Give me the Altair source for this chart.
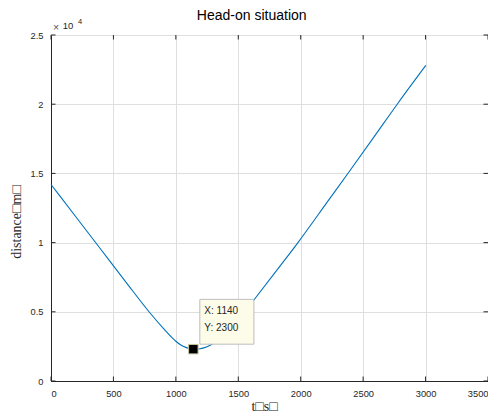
import altair as alt
import pandas as pd

# ---- data ----
t_vals = [0, 200, 400, 600, 790, 900, 973, 1000, 1040, 1080, 1110, 1140, 1170, 1199,
          1250, 1305, 1400, 1500, 1625, 1800, 1978, 2222, 2382, 2600, 2773, 3002]
d_vals = [14200, 11850, 9500, 7150, 4950, 3800, 3100, 2870, 2600, 2430, 2345, 2300, 2300, 2340,
          2480, 2724, 3400, 4400, 5850, 7900, 10000, 13050, 15050, 17800, 20000, 22800]

x_ticks = [0, 500, 1000, 1500, 2000, 2500, 3000, 3500]
y_ticks = [0, 5000, 10000, 15000, 20000, 25000]

tip_t = [1140]
tip_d = [2300]
tip_box = {"t": [1192], "t2": [1625], "d": [2660], "d2": [5900]}

W, H = 437, 346
AXC = "#262626"

line_df = pd.DataFrame({"t": t_vals, "d": d_vals})
xt_df = pd.DataFrame({"t": x_ticks})
yt_df = pd.DataFrame({"d": y_ticks})
tip_df = pd.DataFrame({"t": tip_t, "d": tip_d,
                       "lx": [f"X: {v}" for v in tip_t], "ly": [f"Y: {v}" for v in tip_d]})
box_df = pd.DataFrame(tip_box)

xscale = alt.Scale(domain=[0, 3500], nice=False, zero=False)
yscale = alt.Scale(domain=[0, 25000], nice=False, zero=False)

line = alt.Chart(line_df).mark_line(color="#0072BD", strokeWidth=1.1,
                                    interpolate="monotone").encode(
    x=alt.X("t:Q", scale=xscale,
            axis=alt.Axis(values=x_ticks, format="d", title="t□s□", titleFont="Liberation Serif",
                          titleFontSize=14, titleFontWeight="normal", titleColor=AXC,
                          titleX=213, titleY=25.5, titleBaseline="middle", titleAlign="center",
                          labelFont="Liberation Sans", labelFontSize=9.3, labelColor=AXC,
                          labelPadding=8, ticks=False, tickSize=0,
                          domainColor=AXC, grid=True, gridColor="#dfdfdf")),
    y=alt.Y("d:Q", scale=yscale,
            axis=alt.Axis(values=y_ticks, labelExpr="datum.value / 10000 + ''",
                          title="distance□m□", titleFont="Liberation Serif",
                          titleFontSize=14, titleFontWeight="normal", titleColor=AXC,
                          titleX=-34.3, titleY=186.5, titleAngle=270,
                          titleBaseline="middle", titleAlign="center",
                          labelFont="Liberation Sans", labelFontSize=9.3, labelColor=AXC,
                          labelPadding=8, ticks=False, tickSize=0,
                          domainColor=AXC, grid=True, gridColor="#dfdfdf")),
)

tk = dict(color=AXC, strokeWidth=1)
xt_bot = alt.Chart(xt_df).mark_rule(**tk).encode(
    x=alt.X("t:Q", scale=xscale), y=alt.value(H), y2=alt.value(H - 4.5))
xt_top = alt.Chart(xt_df).mark_rule(**tk).encode(
    x=alt.X("t:Q", scale=xscale), y=alt.value(0), y2=alt.value(4.5))
yt_left = alt.Chart(yt_df).mark_rule(**tk).encode(
    y=alt.Y("d:Q", scale=yscale), x=alt.value(0), x2=alt.value(4.5))
yt_right = alt.Chart(yt_df).mark_rule(**tk).encode(
    y=alt.Y("d:Q", scale=yscale), x=alt.value(W), x2=alt.value(W - 4.5))

box = alt.Chart(box_df).mark_rect(fill="#fcfce9", stroke="#bdbdbd", strokeWidth=1).encode(
    x=alt.X("t:Q", scale=xscale), x2="t2:Q",
    y=alt.Y("d:Q", scale=yscale), y2="d2:Q")

marker = alt.Chart(tip_df).mark_square(size=90, filled=True, color="black",
                                       stroke="#cdc8a5", strokeWidth=1, opacity=1).encode(
    x=alt.X("t:Q", scale=xscale), y=alt.Y("d:Q", scale=yscale))

tx = alt.Chart(tip_df).mark_text(align="left", baseline="middle", dx=11, dy=-38.5,
                                 font="Liberation Sans", fontSize=10, color=AXC).encode(
    x=alt.X("t:Q", scale=xscale), y=alt.Y("d:Q", scale=yscale), text="lx:N")
ty = alt.Chart(tip_df).mark_text(align="left", baseline="middle", dx=11, dy=-21,
                                 font="Liberation Sans", fontSize=10, color=AXC).encode(
    x=alt.X("t:Q", scale=xscale), y=alt.Y("d:Q", scale=yscale), text="ly:N")

title = alt.Chart(pd.DataFrame({"s": ["Head-on situation"]})).mark_text(
    align="center", baseline="middle", font="Liberation Sans", fontSize=14, color="black").encode(
    x=alt.value(200.7), y=alt.value(-19), text="s:N")

exp_x = alt.Chart(pd.DataFrame({"s": ["×"]})).mark_text(
    align="left", baseline="alphabetic", font="Liberation Sans", fontSize=10.5, color="#555555").encode(
    x=alt.value(2), y=alt.value(-4.5), text="s:N")
exp_10 = alt.Chart(pd.DataFrame({"s": ["10"]})).mark_text(
    align="left", baseline="alphabetic", font="Liberation Sans", fontSize=9.5, color=AXC).encode(
    x=alt.value(11.7), y=alt.value(-5.7), text="s:N")
exp_4 = alt.Chart(pd.DataFrame({"s": ["4"]})).mark_text(
    align="left", baseline="alphabetic", font="Liberation Sans", fontSize=7.5, color=AXC).encode(
    x=alt.value(27), y=alt.value(-11.5), text="s:N")

chart = alt.layer(line, xt_bot, xt_top, yt_left, yt_right, box, tx, ty, marker,
                  title, exp_x, exp_10, exp_4).properties(
    width=W, height=H,
    padding={"left": 43, "top": 27, "right": 0, "bottom": 36},
    autosize=alt.AutoSizeParams(type="none"),
    background="white",
).configure_view(stroke=AXC, strokeWidth=1)

chart.save("out.html", embed_options={"renderer": "svg", "actions": False})
